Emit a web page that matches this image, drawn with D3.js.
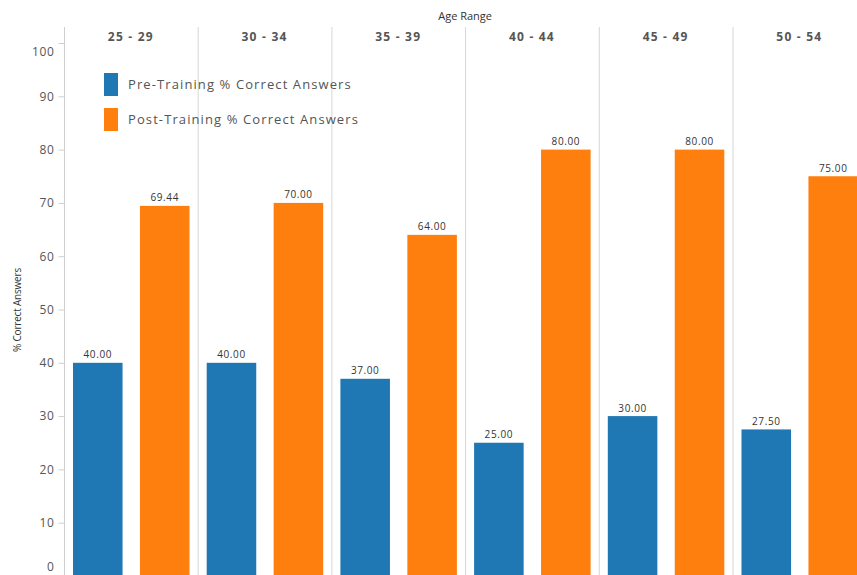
<!DOCTYPE html>
<html lang="en">
<head>
<meta charset="UTF-8">
<title>% Correct Answers by Age Range</title>
<script src="https://cdn.jsdelivr.net/npm/d3@7"></script>
<style>
  html, body { margin: 0; padding: 0; overflow: hidden; background: #fff; }
  text { font-family: "Open Sans", sans-serif; }
</style>
</head>
<body>
<script>
  // data
  var ageRanges = ["25 - 29", "30 - 34", "35 - 39", "40 - 44", "45 - 49", "50 - 54"];
  var preTraining = [40.00, 40.00, 37.00, 25.00, 30.00, 27.50];
  var postTraining = [69.44, 70.00, 64.00, 80.00, 80.00, 75.00];
  var seriesNames = ["Pre-Training % Correct Answers", "Post-Training % Correct Answers"];
  var seriesColors = ["#1f77b4", "#ff7f0e"];
  var yTicks = [0, 10, 20, 30, 40, 50, 60, 70, 80, 90, 100];

  var width = 857, height = 575;
  var left = 64, cellTop = 27, plotTop = 43, plotBottom = 576;
  var colWidth = 133.7;

  var svg = d3.select("body").append("svg")
    .attr("width", width)
    .attr("height", height);

  var xCol = d3.scaleBand()
    .domain(ageRanges)
    .range([left, left + colWidth * ageRanges.length]);

  var xBar = d3.scaleBand()
    .domain(d3.range(seriesNames.length))
    .range([9, 125.5])
    .paddingInner(0.26);

  var y = d3.scaleLinear().domain([0, 100]).range([plotBottom, plotTop]);

  // column separators
  svg.append("g").selectAll("line")
    .data(ageRanges.slice(1))
    .enter().append("line")
    .attr("x1", function(d){ return xCol(d) + 0.5; })
    .attr("x2", function(d){ return xCol(d) + 0.5; })
    .attr("y1", cellTop)
    .attr("y2", height)
    .attr("stroke", "#d6d6d6")
    .attr("stroke-width", 1);

  // y axis
  var yAxis = d3.axisLeft(y).tickValues(yTicks).tickSize(6).tickPadding(4);
  var gy = svg.append("g")
    .attr("transform", "translate(" + (left + 0.5) + ",0)")
    .call(yAxis);
  gy.select(".domain").remove();
  gy.append("line")
    .attr("x1", 0).attr("x2", 0)
    .attr("y1", cellTop).attr("y2", height)
    .attr("stroke", "#cfcfcf");
  gy.selectAll(".tick line").attr("stroke", "#cfcfcf");
  gy.selectAll(".tick text")
    .attr("fill", "#555")
    .style("font-size", "12px")
    .style("letter-spacing", "0.6px")
    .attr("dy", function(d){
      if (d === 100) return "1.0em";
      if (d === 0) return "-0.5em";
      return "0.32em";
    });

  // y axis title
  svg.append("text")
    .attr("transform", "translate(21," + 310 + ") rotate(-90)")
    .attr("text-anchor", "middle")
    .attr("fill", "#333")
    .style("font-size", "10px")
    .style("letter-spacing", "-0.2px")
    .text("% Correct Answers");

  // column title
  svg.append("text")
    .attr("x", left + colWidth * ageRanges.length / 2)
    .attr("y", 20)
    .attr("text-anchor", "middle")
    .attr("fill", "#333")
    .style("font-size", "11px")
    .text("Age Range");

  // column headers
  svg.append("g").selectAll("text")
    .data(ageRanges)
    .enter().append("text")
    .attr("x", function(d){ return xCol(d) + colWidth / 2; })
    .attr("y", 40.5)
    .attr("text-anchor", "middle")
    .attr("fill", "#555")
    .style("font-size", "12px")
    .style("font-weight", "bold")
    .style("letter-spacing", "1.2px")
    .text(function(d){ return d; });

  // bars
  var cells = svg.append("g").selectAll("g")
    .data(ageRanges)
    .enter().append("g")
    .attr("transform", function(d){ return "translate(" + xCol(d) + ",0)"; });

  var bars = cells.selectAll("g.bar")
    .data(function(d, i){ return [preTraining[i], postTraining[i]]; })
    .enter().append("g").attr("class", "bar");

  bars.append("rect")
    .attr("x", function(d, j){ return xBar(j); })
    .attr("y", function(d){ return y(d); })
    .attr("width", xBar.bandwidth())
    .attr("height", function(d){ return y(0) - y(d); })
    .attr("fill", function(d, j){ return seriesColors[j]; });

  bars.append("text")
    .attr("x", function(d, j){ return xBar(j) + xBar.bandwidth() / 2; })
    .attr("y", function(d){ return y(d) - 4.5; })
    .attr("text-anchor", "middle")
    .attr("fill", "#333")
    .style("font-size", "10px")
    .style("letter-spacing", "0.6px")
    .text(function(d){ return d.toFixed(2); });

  // legend
  var legend = svg.append("g").selectAll("g")
    .data(seriesNames)
    .enter().append("g")
    .attr("transform", function(d, i){ return "translate(104," + (73 + i * 35) + ")"; });

  legend.append("rect")
    .attr("width", 14)
    .attr("height", 23)
    .attr("fill", function(d, i){ return seriesColors[i]; });

  legend.append("text")
    .attr("x", 24)
    .attr("y", 11.5)
    .attr("dy", "0.35em")
    .attr("fill", "#555")
    .style("font-size", "13px")
    .style("letter-spacing", "1.1px")
    .text(function(d){ return d; });
</script>
</body>
</html>
